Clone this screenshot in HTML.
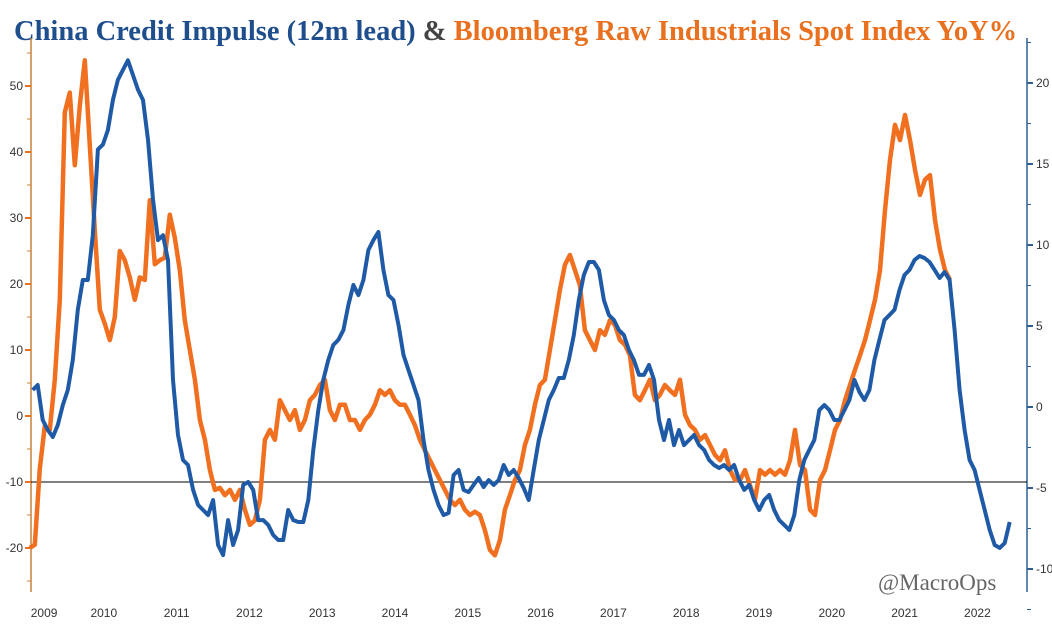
<!DOCTYPE html>
<html><head><meta charset="utf-8"><style>
html,body{margin:0;padding:0;background:#fff}
svg text{font-family:"Liberation Sans",sans-serif}
</style></head><body>
<svg id="chart" width="1052" height="623" xmlns="http://www.w3.org/2000/svg">
<text x="14" y="40" font-size="28.5" font-weight="bold" style="font-family:'Liberation Serif',serif"><tspan fill="#1f4e8c">China Credit Impulse (12m lead)</tspan><tspan fill="#444"> &amp; </tspan><tspan fill="#e8701e">Bloomberg Raw Industrials Spot Index YoY%</tspan></text>
<g id="axes"></g>
<g id="series"></g>
<text x="878" y="590" font-size="23" fill="#666" style="font-family:'Liberation Serif',serif">@MacroOps</text>
</svg>
<script>
const leftTicks=[-20,-10,0,10,20,30,40,50];
const rightTicks=[-10,-5,0,5,10,15,20];
const years=[2009,2010,2011,2012,2013,2014,2015,2016,2017,2018,2019,2020,2021,2022];
const orangeStart=2008.97, orangeEnd=2021.61;
const orangeValues=[-20,-19.5,-8,-1.5,-2.1,5.5,17.6,46,49,38,47,53.9,41,28.2,16.1,14,11.5,15,25,23.6,21,17.6,21,20.6,32.7,23,23.6,24,30.5,27,
22.1,14.5,10,5.5,-0.6,-3.6,-8.2,-11.2,-10.9,-12,-11.2,-12.7,-11.2,-14.2,-16.5,-15.8,-12.7,-3.6,-2.1,-3.6,2.4,0.9,-0.6,0.9,-2.1,-0.6,2.4,3.2,4.7,5.5,0.9,-0.6,1.7,1.7,-0.6,-0.6,-2.1,-0.6,0.2,1.7,3.9,3.2,3.9,2.4,1.7,1.7,0.2,-1.4,-3.6,-5.2,-6.7,-8.2,-9.7,-11.2,-12.7,-13.5,-12.7,-14.2,-15,-14.5,-15,-17.3,-20.3,-21.1,-18.8,-14.2,-12,-9.7,-8.2,-4.4,-2.1,1.7,4.7,5.5,10,14.5,19.1,22.9,24.4,22.1,19.8,13,11.5,10,13,12.3,14.5,13.8,11.5,10.8,9.2,3.2,2.4,3.9,5.5,2.4,3.2,4.7,3.9,3.2,5.5,0.2,-1.4,-2.1,-3.6,-2.9,-4.4,-5.9,-6.7,-5.2,-8.2,-9.7,-9.7,-8.2,-10.5,-12.7,-8.2,-8.9,-8.2,-8.9,-8.2,-8.9,-6.7,-2.1,-7.4,-8.2,-14.2,-15,-9.7,-8.2,-5.2,-2.1,-0.6,2.4,4.7,7,9.2,11.5,14.5,17.6,22.1,31.2,38.8,44.1,41.8,45.6,41.8,37.3,33.5,35.8,36.5,29.7,25.2,22.1,20.6];
const blueStart=2009.01, blueEnd=2022.43;
const blueValues=[1.05,1.36,-0.8,-1.42,-1.85,-1.11,0.12,1.05,2.9,6,7.84,7.84,10.6,15.9,16.2,17.1,18.95,20.2,20.8,21.4,20.5,19.6,18.95,16.5,12.8,10.3,10.6,9.07,1.67,-1.73,-3.27,-3.58,-5.12,-6.05,-6.36,-6.67,-5.74,-8.52,-9.14,-6.98,-8.52,-7.59,-4.81,-4.63,-5.12,-6.98,-6.98,-7.28,-7.9,-8.21,-8.21,-6.36,-6.98,-7.1,-7.1,-5.74,-2.65,-0.19,1.67,2.9,3.83,4.14,4.75,6.3,7.53,6.91,7.84,9.69,10.3,10.8,8.46,6.91,6.6,5.06,3.21,2.28,1.36,0.43,-2.04,-3.89,-5.12,-6.05,-6.67,-6.54,-4.2,-3.89,-5.12,-5.25,-4.81,-4.38,-4.94,-4.51,-4.81,-4.51,-3.58,-4.2,-3.89,-4.38,-5,-5.74,-3.89,-2.04,-0.8,0.43,1.05,1.79,1.79,2.9,4.44,6.6,8.15,8.95,8.95,8.46,6.6,5.68,5.37,4.75,4.44,3.52,2.9,1.98,1.98,2.59,1.67,-0.8,-2.04,-0.8,-2.35,-1.42,-2.35,-2.04,-1.73,-2.35,-2.65,-3.27,-3.58,-3.77,-3.58,-3.89,-3.58,-4.51,-5.12,-4.81,-5.74,-6.36,-5.74,-5.43,-6.36,-6.98,-7.28,-7.59,-6.67,-4.51,-3.27,-2.65,-2.04,-0.19,0.12,-0.19,-0.8,-0.8,-0.19,0.43,1.67,0.93,0.43,1.05,2.9,4.14,5.37,5.68,6,7.22,8.15,8.46,9.07,9.32,9.2,8.95,8.46,7.96,8.33,7.84,4.75,1.05,-1.42,-3.27,-3.89,-5.12,-6.36,-7.59,-8.52,-8.7,-8.4,-7.1];
const refLevel=-10;

const NS="http://www.w3.org/2000/svg";
const xS=t=>32+(t-2009)*72.8;
const yL=v=>416-v*6.6;
const yR=v=>407-v*16.2;
function mk(tag,attrs,parent,text){const e=document.createElementNS(NS,tag);for(const k in attrs)e.setAttribute(k,attrs[k]);if(text!==undefined)e.textContent=text;parent.appendChild(e);return e;}
const axes=document.getElementById('axes'), series=document.getElementById('series');
let e;
e=mk('line',{x1:31,x2:31,y1:38,y2:592,stroke:'#c8803a','stroke-width':1.5},axes);


e=mk('line',{x1:1027,x2:1027,y1:38,y2:592,stroke:'#2f5f90','stroke-width':1.5},axes);


for(let v=-25;v<=55;v+=5){mk('line',{x1:27,x2:31,y1:yL(v),y2:yL(v),stroke:'#c8803a','stroke-width':1},axes);}
leftTicks.forEach(v=>{mk('line',{x1:25,x2:31,y1:yL(v),y2:yL(v),stroke:'#e8701e','stroke-width':2},axes);
e=mk('text',{x:23,y:yL(v)+4,'font-size':12,fill:'#333','text-anchor':'end'},axes,String(v));

});
for(let v=-12.5;v<=22.5;v+=2.5){mk('line',{x1:1027,x2:1031,y1:yR(v),y2:yR(v),stroke:'#2f5f90','stroke-width':1},axes);}
rightTicks.forEach(v=>{mk('line',{x1:1027,x2:1033,y1:yR(v),y2:yR(v),stroke:'#2f5f90','stroke-width':2},axes);
e=mk('text',{x:1036,y:yR(v)+4,'font-size':12,fill:'#333'},axes,String(v));

});
years.forEach((y,i)=>{e=mk('text',{x:xS(i===0?y+0.18:y)-1,y:617,'font-size':12,fill:'#333','text-anchor':'middle'},axes,String(y));

});
e=mk('line',{x1:31,x2:1027,y1:yL(refLevel),y2:yL(refLevel),stroke:'#000','stroke-width':1},axes);


function pts(start,end,vals,yf){const n=vals.length;return vals.map((v,i)=>(xS(start+(end-start)*i/(n-1))).toFixed(1)+','+yf(v).toFixed(1)).join(' ');}
e=mk('polyline',{points:pts(orangeStart,orangeEnd,orangeValues,yL),fill:'none',stroke:'#f07020','stroke-width':4.5,'stroke-linejoin':'round'},series);


e=mk('polyline',{points:pts(blueStart,blueEnd,blueValues,yR),fill:'none',stroke:'#1f5aa6','stroke-width':4,'stroke-linejoin':'round'},series);


</script>
</body></html>
